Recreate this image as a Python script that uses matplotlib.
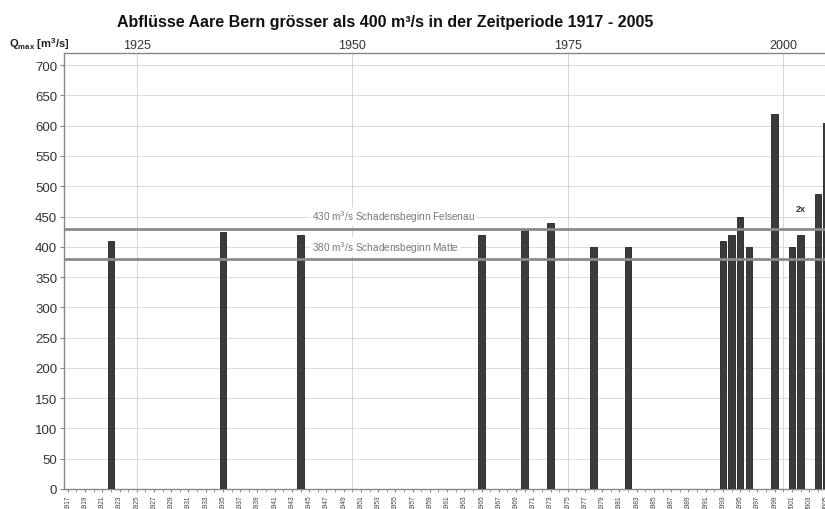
import matplotlib
matplotlib.use("Agg")
import matplotlib.pyplot as plt

years = list(range(1917, 2006))
flood_years = [1922, 1935, 1944, 1965, 1970, 1973, 1978, 1982,
               1993, 1994, 1995, 1996, 1999, 2001, 2002, 2004, 2005]
qmax = [410, 425, 420, 420, 430, 440, 400, 400,
        410, 420, 450, 400, 620, 400, 420, 487, 605]
bottom_labels = [str(y) for y in range(1917, 2006, 2)]
top_ticks = [1925, 1950, 1975, 2000]
yticks = list(range(0, 701, 50))
thresholds = [430, 380]
threshold_labels = ["430 m$^3$/s Schadensbeginn Felsenau",
                    "380 m$^3$/s Schadensbeginn Matte"]
threshold_label_y = [450, 400]
note_year, note_val, note_text = 2002, 455, "2x"

plt.rcParams['font.family'] = ['Liberation Sans', 'DejaVu Sans']

ppy = 8.62
left_px = 63.5
fig = plt.figure(figsize=(8.25, 5.1), dpi=100)
ax = fig.add_axes([left_px/825, 1-490/510, (89*ppy)/825, (490-54)/510])

ax.set_xlim(1916.5, 2005.5)
ax.set_ylim(0, 720)

# grid
for v in yticks[1:]:
    ax.axhline(v, color='#d4d4d4', lw=0.6, zorder=0)
for t in top_ticks:
    ax.axvline(t, color='#d0d0d0', lw=0.6, zorder=0)

ax.bar(flood_years, qmax, width=0.75, color='#3b3b3b', edgecolor='#222222',
       linewidth=0.6, zorder=3)

for th in thresholds:
    ax.axhline(th, color='#8a8a8a', lw=2.0, zorder=4)

for lab, ly in zip(threshold_labels, threshold_label_y):
    ax.text(1945.3, ly, lab, fontsize=7.2, color='#777777', va='center', ha='left',
            bbox=dict(facecolor='white', edgecolor='none', pad=1.0), zorder=2)

ax.text(note_year, note_val, note_text, fontsize=6.5, fontweight='bold',
        color='#333333', ha='center', va='bottom', zorder=5)

ax.set_yticks(yticks)
ax.set_yticklabels([str(v) for v in yticks], fontsize=9.5, color='#333333')
ax.tick_params(axis='y', length=3, color='#888888', pad=1.5)

ax.set_xticks(list(range(1917, 2006, 2)))
ax.set_xticklabels(bottom_labels, rotation=90, fontsize=4.8, color='#444444')
ax.set_xticks(years, minor=True)
ax.tick_params(axis='x', which='both', length=2, color='#888888', pad=2)

sec = ax.secondary_xaxis('top')
sec.set_xticks(top_ticks)
sec.set_xticklabels([str(t) for t in top_ticks], fontsize=9, color='#333333')
sec.tick_params(length=0, pad=1.5)
sec.spines['top'].set_visible(False)

for s in ax.spines.values():
    s.set_color('#888888')
    s.set_linewidth(1.0)

fig.text(385/825, 1-22/510, "Abflüsse Aare Bern grösser als 400 m³/s in der Zeitperiode 1917 - 2005",
         fontsize=11.5, fontweight='bold', ha='center', va='center', color='#111111')
fig.text(9/825, 1-44/510, r"Q$_{\mathregular{max}}$ [m$^{\mathregular{3}}$/s]",
         fontsize=8, fontweight='bold', ha='left', va='center', color='#222222')

fig.savefig("out.png", dpi=100)
